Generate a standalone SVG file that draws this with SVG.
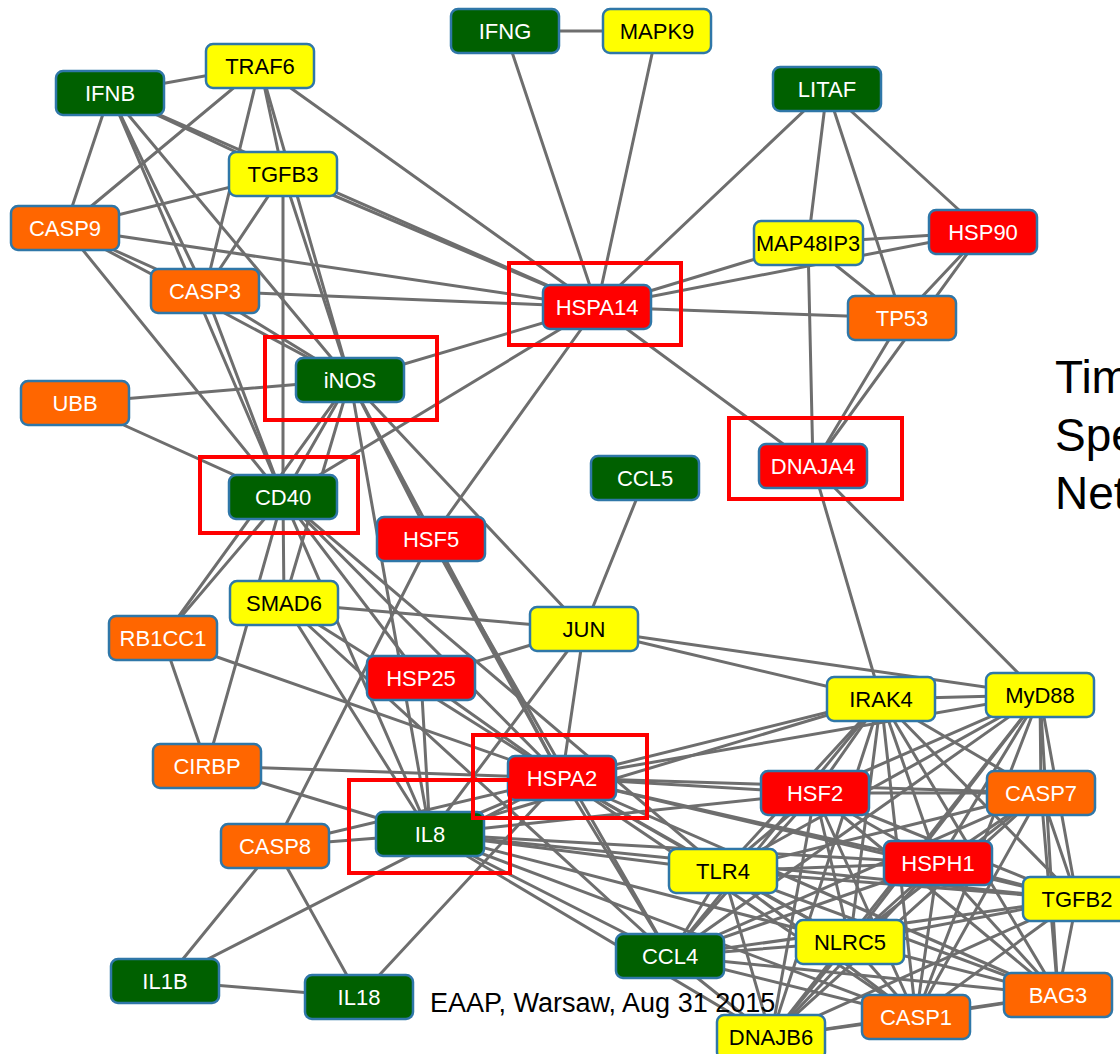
<svg xmlns="http://www.w3.org/2000/svg" width="1120" height="1054" viewBox="0 0 1120 1054">
<style>
.e line{stroke:#6e6e6e;stroke-width:3;stroke-linecap:round}
.n rect{stroke:#2f77a8;stroke-width:2.5;rx:7px;ry:7px}
.n text{font-family:"Liberation Sans",Arial,sans-serif;font-size:22px;text-anchor:middle;fill:#ffffff}
.g rect{fill:#006000}
.y rect{fill:#ffff00}
.y text{fill:#000000}
.o rect{fill:#ff6600}
.r rect{fill:#ff0000}
.hl rect{fill:none;stroke:#ff0000;stroke-width:4}
.t{font-family:"Liberation Sans",Arial,sans-serif;fill:#000000}
</style>
<rect x="0" y="0" width="1120" height="1054" fill="#ffffff"/>
<g id="connectors" class="e">
<line x1="110" y1="93" x2="260" y2="66"/>
<line x1="110" y1="93" x2="65" y2="228"/>
<line x1="110" y1="93" x2="205" y2="291"/>
<line x1="110" y1="93" x2="350" y2="380"/>
<line x1="110" y1="93" x2="283" y2="174"/>
<line x1="110" y1="93" x2="597" y2="307"/>
<line x1="110" y1="93" x2="283" y2="497"/>
<line x1="260" y1="66" x2="65" y2="228"/>
<line x1="260" y1="66" x2="205" y2="291"/>
<line x1="260" y1="66" x2="283" y2="174"/>
<line x1="260" y1="66" x2="350" y2="380"/>
<line x1="260" y1="66" x2="597" y2="307"/>
<line x1="283" y1="174" x2="65" y2="228"/>
<line x1="283" y1="174" x2="205" y2="291"/>
<line x1="283" y1="174" x2="283" y2="497"/>
<line x1="283" y1="174" x2="350" y2="380"/>
<line x1="283" y1="174" x2="597" y2="307"/>
<line x1="65" y1="228" x2="205" y2="291"/>
<line x1="65" y1="228" x2="350" y2="380"/>
<line x1="65" y1="228" x2="283" y2="497"/>
<line x1="65" y1="228" x2="597" y2="307"/>
<line x1="205" y1="291" x2="597" y2="307"/>
<line x1="205" y1="291" x2="350" y2="380"/>
<line x1="205" y1="291" x2="283" y2="497"/>
<line x1="75" y1="403" x2="350" y2="380"/>
<line x1="75" y1="403" x2="283" y2="497"/>
<line x1="350" y1="380" x2="283" y2="497"/>
<line x1="350" y1="380" x2="597" y2="307"/>
<line x1="350" y1="380" x2="431" y2="539"/>
<line x1="350" y1="380" x2="584" y2="629"/>
<line x1="350" y1="380" x2="562" y2="778"/>
<line x1="350" y1="380" x2="284" y2="603"/>
<line x1="350" y1="380" x2="430" y2="834"/>
<line x1="350" y1="380" x2="163" y2="638"/>
<line x1="283" y1="497" x2="597" y2="307"/>
<line x1="283" y1="497" x2="284" y2="603"/>
<line x1="283" y1="497" x2="163" y2="638"/>
<line x1="283" y1="497" x2="207" y2="766"/>
<line x1="283" y1="497" x2="562" y2="778"/>
<line x1="283" y1="497" x2="723" y2="871"/>
<line x1="283" y1="497" x2="430" y2="834"/>
<line x1="283" y1="497" x2="421" y2="678"/>
<line x1="431" y1="539" x2="597" y2="307"/>
<line x1="431" y1="539" x2="275" y2="846"/>
<line x1="431" y1="539" x2="562" y2="778"/>
<line x1="431" y1="539" x2="670" y2="956"/>
<line x1="505" y1="31" x2="657" y2="31"/>
<line x1="505" y1="31" x2="597" y2="307"/>
<line x1="657" y1="31" x2="597" y2="307"/>
<line x1="827" y1="89" x2="597" y2="307"/>
<line x1="827" y1="89" x2="808" y2="243"/>
<line x1="827" y1="89" x2="902" y2="318"/>
<line x1="827" y1="89" x2="983" y2="232"/>
<line x1="597" y1="307" x2="808" y2="243"/>
<line x1="597" y1="307" x2="983" y2="232"/>
<line x1="597" y1="307" x2="902" y2="318"/>
<line x1="597" y1="307" x2="813" y2="466"/>
<line x1="808" y1="243" x2="983" y2="232"/>
<line x1="808" y1="243" x2="902" y2="318"/>
<line x1="808" y1="243" x2="813" y2="466"/>
<line x1="983" y1="232" x2="902" y2="318"/>
<line x1="983" y1="232" x2="813" y2="466"/>
<line x1="902" y1="318" x2="813" y2="466"/>
<line x1="813" y1="466" x2="881" y2="699"/>
<line x1="813" y1="466" x2="1040" y2="695"/>
<line x1="645" y1="478" x2="584" y2="629"/>
<line x1="584" y1="629" x2="284" y2="603"/>
<line x1="584" y1="629" x2="421" y2="678"/>
<line x1="584" y1="629" x2="881" y2="699"/>
<line x1="584" y1="629" x2="1040" y2="695"/>
<line x1="584" y1="629" x2="562" y2="778"/>
<line x1="584" y1="629" x2="430" y2="834"/>
<line x1="284" y1="603" x2="562" y2="778"/>
<line x1="284" y1="603" x2="430" y2="834"/>
<line x1="284" y1="603" x2="670" y2="956"/>
<line x1="163" y1="638" x2="207" y2="766"/>
<line x1="163" y1="638" x2="562" y2="778"/>
<line x1="421" y1="678" x2="562" y2="778"/>
<line x1="421" y1="678" x2="430" y2="834"/>
<line x1="207" y1="766" x2="562" y2="778"/>
<line x1="207" y1="766" x2="430" y2="834"/>
<line x1="275" y1="846" x2="430" y2="834"/>
<line x1="275" y1="846" x2="165" y2="981"/>
<line x1="275" y1="846" x2="359" y2="997"/>
<line x1="275" y1="846" x2="562" y2="778"/>
<line x1="165" y1="981" x2="359" y2="997"/>
<line x1="165" y1="981" x2="562" y2="778"/>
<line x1="359" y1="997" x2="562" y2="778"/>
<line x1="430" y1="834" x2="562" y2="778"/>
<line x1="562" y1="778" x2="881" y2="699"/>
<line x1="562" y1="778" x2="1040" y2="695"/>
<line x1="562" y1="778" x2="815" y2="793"/>
<line x1="562" y1="778" x2="1041" y2="793"/>
<line x1="562" y1="778" x2="938" y2="863"/>
<line x1="562" y1="778" x2="1077" y2="899"/>
<line x1="562" y1="778" x2="723" y2="871"/>
<line x1="562" y1="778" x2="850" y2="942"/>
<line x1="562" y1="778" x2="670" y2="956"/>
<line x1="562" y1="778" x2="1058" y2="995"/>
<line x1="562" y1="778" x2="916" y2="1017"/>
<line x1="430" y1="834" x2="723" y2="871"/>
<line x1="430" y1="834" x2="815" y2="793"/>
<line x1="430" y1="834" x2="938" y2="863"/>
<line x1="430" y1="834" x2="850" y2="942"/>
<line x1="430" y1="834" x2="670" y2="956"/>
<line x1="430" y1="834" x2="916" y2="1017"/>
<line x1="430" y1="834" x2="1077" y2="899"/>
<line x1="430" y1="834" x2="771" y2="1037"/>
<line x1="430" y1="834" x2="881" y2="699"/>
<line x1="881" y1="699" x2="1040" y2="695"/>
<line x1="881" y1="699" x2="815" y2="793"/>
<line x1="881" y1="699" x2="1041" y2="793"/>
<line x1="881" y1="699" x2="938" y2="863"/>
<line x1="881" y1="699" x2="1077" y2="899"/>
<line x1="881" y1="699" x2="723" y2="871"/>
<line x1="881" y1="699" x2="850" y2="942"/>
<line x1="881" y1="699" x2="670" y2="956"/>
<line x1="881" y1="699" x2="916" y2="1017"/>
<line x1="881" y1="699" x2="1058" y2="995"/>
<line x1="881" y1="699" x2="771" y2="1037"/>
<line x1="1040" y1="695" x2="815" y2="793"/>
<line x1="1040" y1="695" x2="1041" y2="793"/>
<line x1="1040" y1="695" x2="938" y2="863"/>
<line x1="1040" y1="695" x2="1077" y2="899"/>
<line x1="1040" y1="695" x2="723" y2="871"/>
<line x1="1040" y1="695" x2="850" y2="942"/>
<line x1="1040" y1="695" x2="670" y2="956"/>
<line x1="1040" y1="695" x2="916" y2="1017"/>
<line x1="1040" y1="695" x2="1058" y2="995"/>
<line x1="1040" y1="695" x2="771" y2="1037"/>
<line x1="815" y1="793" x2="1041" y2="793"/>
<line x1="815" y1="793" x2="938" y2="863"/>
<line x1="815" y1="793" x2="1077" y2="899"/>
<line x1="815" y1="793" x2="723" y2="871"/>
<line x1="815" y1="793" x2="850" y2="942"/>
<line x1="815" y1="793" x2="670" y2="956"/>
<line x1="815" y1="793" x2="916" y2="1017"/>
<line x1="815" y1="793" x2="1058" y2="995"/>
<line x1="815" y1="793" x2="771" y2="1037"/>
<line x1="1041" y1="793" x2="938" y2="863"/>
<line x1="1041" y1="793" x2="1077" y2="899"/>
<line x1="1041" y1="793" x2="723" y2="871"/>
<line x1="1041" y1="793" x2="850" y2="942"/>
<line x1="1041" y1="793" x2="670" y2="956"/>
<line x1="1041" y1="793" x2="916" y2="1017"/>
<line x1="1041" y1="793" x2="1058" y2="995"/>
<line x1="1041" y1="793" x2="771" y2="1037"/>
<line x1="938" y1="863" x2="1077" y2="899"/>
<line x1="938" y1="863" x2="723" y2="871"/>
<line x1="938" y1="863" x2="850" y2="942"/>
<line x1="938" y1="863" x2="670" y2="956"/>
<line x1="938" y1="863" x2="916" y2="1017"/>
<line x1="938" y1="863" x2="1058" y2="995"/>
<line x1="938" y1="863" x2="771" y2="1037"/>
<line x1="1077" y1="899" x2="723" y2="871"/>
<line x1="1077" y1="899" x2="850" y2="942"/>
<line x1="1077" y1="899" x2="670" y2="956"/>
<line x1="1077" y1="899" x2="916" y2="1017"/>
<line x1="1077" y1="899" x2="1058" y2="995"/>
<line x1="1077" y1="899" x2="771" y2="1037"/>
<line x1="723" y1="871" x2="850" y2="942"/>
<line x1="723" y1="871" x2="670" y2="956"/>
<line x1="723" y1="871" x2="916" y2="1017"/>
<line x1="723" y1="871" x2="1058" y2="995"/>
<line x1="723" y1="871" x2="771" y2="1037"/>
<line x1="850" y1="942" x2="670" y2="956"/>
<line x1="850" y1="942" x2="916" y2="1017"/>
<line x1="850" y1="942" x2="1058" y2="995"/>
<line x1="850" y1="942" x2="771" y2="1037"/>
<line x1="670" y1="956" x2="916" y2="1017"/>
<line x1="670" y1="956" x2="1058" y2="995"/>
<line x1="670" y1="956" x2="771" y2="1037"/>
<line x1="916" y1="1017" x2="1058" y2="995"/>
<line x1="916" y1="1017" x2="771" y2="1037"/>
<line x1="1058" y1="995" x2="771" y2="1037"/>
</g>
<g id="n-IFNG" class="n g"><rect x="451" y="9" width="108" height="44"/><text x="505" y="39">IFNG</text></g>
<g id="n-MAPK9" class="n y"><rect x="603" y="9" width="108" height="44"/><text x="657" y="39">MAPK9</text></g>
<g id="n-TRAF6" class="n y"><rect x="206" y="44" width="108" height="44"/><text x="260" y="74">TRAF6</text></g>
<g id="n-IFNB" class="n g"><rect x="56" y="71" width="108" height="44"/><text x="110" y="101">IFNB</text></g>
<g id="n-LITAF" class="n g"><rect x="773" y="67" width="108" height="44"/><text x="827" y="97">LITAF</text></g>
<g id="n-TGFB3" class="n y"><rect x="229" y="152" width="108" height="44"/><text x="283" y="182">TGFB3</text></g>
<g id="n-CASP9" class="n o"><rect x="11" y="206" width="108" height="44"/><text x="65" y="236">CASP9</text></g>
<g id="n-MAP48IP3" class="n y"><rect x="754" y="221" width="109" height="44"/><text x="808" y="251" textLength="104" lengthAdjust="spacingAndGlyphs">MAP48IP3</text></g>
<g id="n-HSP90" class="n r"><rect x="929" y="210" width="108" height="44"/><text x="983" y="240">HSP90</text></g>
<g id="n-CASP3" class="n o"><rect x="151" y="269" width="108" height="44"/><text x="205" y="299">CASP3</text></g>
<g id="n-HSPA14" class="n r"><rect x="543" y="285" width="108" height="44"/><text x="597" y="315">HSPA14</text></g>
<g id="n-TP53" class="n o"><rect x="848" y="296" width="108" height="44"/><text x="902" y="326">TP53</text></g>
<g id="n-iNOS" class="n g"><rect x="296" y="358" width="108" height="44"/><text x="350" y="388">iNOS</text></g>
<g id="n-UBB" class="n o"><rect x="21" y="381" width="108" height="44"/><text x="75" y="411">UBB</text></g>
<g id="n-DNAJA4" class="n r"><rect x="759" y="444" width="108" height="44"/><text x="813" y="474">DNAJA4</text></g>
<g id="n-CCL5" class="n g"><rect x="591" y="456" width="108" height="44"/><text x="645" y="486">CCL5</text></g>
<g id="n-CD40" class="n g"><rect x="229" y="475" width="108" height="44"/><text x="283" y="505">CD40</text></g>
<g id="n-HSF5" class="n r"><rect x="377" y="517" width="108" height="44"/><text x="431" y="547">HSF5</text></g>
<g id="n-SMAD6" class="n y"><rect x="230" y="581" width="108" height="44"/><text x="284" y="611">SMAD6</text></g>
<g id="n-RB1CC1" class="n o"><rect x="109" y="616" width="108" height="44"/><text x="163" y="646">RB1CC1</text></g>
<g id="n-JUN" class="n y"><rect x="530" y="607" width="108" height="44"/><text x="584" y="637">JUN</text></g>
<g id="n-HSP25" class="n r"><rect x="367" y="656" width="108" height="44"/><text x="421" y="686">HSP25</text></g>
<g id="n-IRAK4" class="n y"><rect x="827" y="677" width="108" height="44"/><text x="881" y="707">IRAK4</text></g>
<g id="n-MyD88" class="n y"><rect x="986" y="673" width="108" height="44"/><text x="1040" y="703">MyD88</text></g>
<g id="n-CIRBP" class="n o"><rect x="153" y="744" width="108" height="44"/><text x="207" y="774">CIRBP</text></g>
<g id="n-HSPA2" class="n r"><rect x="508" y="756" width="108" height="44"/><text x="562" y="786">HSPA2</text></g>
<g id="n-HSF2" class="n r"><rect x="761" y="771" width="108" height="44"/><text x="815" y="801">HSF2</text></g>
<g id="n-CASP7" class="n o"><rect x="987" y="771" width="108" height="44"/><text x="1041" y="801">CASP7</text></g>
<g id="n-IL8" class="n g"><rect x="376" y="812" width="108" height="44"/><text x="430" y="842">IL8</text></g>
<g id="n-CASP8" class="n o"><rect x="221" y="824" width="108" height="44"/><text x="275" y="854">CASP8</text></g>
<g id="n-TLR4" class="n y"><rect x="669" y="849" width="108" height="44"/><text x="723" y="879">TLR4</text></g>
<g id="n-HSPH1" class="n r"><rect x="884" y="841" width="108" height="44"/><text x="938" y="871">HSPH1</text></g>
<g id="n-TGFB2" class="n y"><rect x="1023" y="877" width="108" height="44"/><text x="1077" y="907">TGFB2</text></g>
<g id="n-NLRC5" class="n y"><rect x="796" y="920" width="108" height="44"/><text x="850" y="950">NLRC5</text></g>
<g id="n-CCL4" class="n g"><rect x="616" y="934" width="108" height="44"/><text x="670" y="964">CCL4</text></g>
<g id="n-IL1B" class="n g"><rect x="111" y="959" width="108" height="44"/><text x="165" y="989">IL1B</text></g>
<g id="n-IL18" class="n g"><rect x="305" y="975" width="108" height="44"/><text x="359" y="1005">IL18</text></g>
<g id="n-BAG3" class="n o"><rect x="1004" y="973" width="108" height="44"/><text x="1058" y="1003">BAG3</text></g>
<g id="n-CASP1" class="n o"><rect x="862" y="995" width="108" height="44"/><text x="916" y="1025">CASP1</text></g>
<g id="n-DNAJB6" class="n y"><rect x="717" y="1015" width="108" height="44"/><text x="771" y="1045">DNAJB6</text></g>
<g id="highlights" class="hl">
<rect x="509" y="263" width="172" height="82"/>
<rect x="265" y="337" width="172" height="83"/>
<rect x="200" y="457" width="158" height="76"/>
<rect x="729" y="418" width="173" height="81"/>
<rect x="473" y="735" width="174" height="83"/>
<rect x="349" y="780" width="161" height="93"/>
</g>
<text class="t" x="430" y="1012" font-size="27">EAAP, Warsaw, Aug 31 2015</text>
<text class="t" x="1055" y="393" font-size="46">Tim</text>
<text class="t" x="1055" y="451" font-size="46">Spe</text>
<text class="t" x="1055" y="509" font-size="46">Net</text>
</svg>
